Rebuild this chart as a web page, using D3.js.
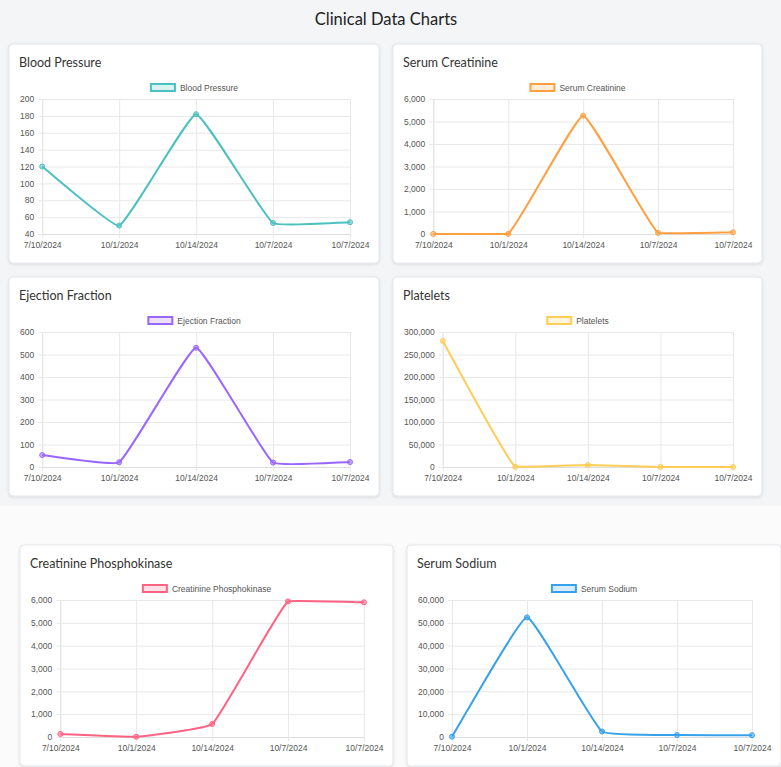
<!DOCTYPE html>
<html>
<head>
<meta charset="utf-8">
<script src="https://cdn.jsdelivr.net/npm/d3@7"></script>
<style>
    html, body { margin: 0; padding: 0; background: #f4f5f7; }
    svg { display: block; }
</style>
</head>
<body>
<svg id="page" width="781" height="767"></svg>
<script>
// Chart data
const dates = ["7/10/2024", "10/1/2024", "10/14/2024", "10/7/2024", "10/7/2024"];

const bloodPressure = [120, 50, 182, 53, 54];
const serumCreatinine = [5, 5, 5260, 50, 75];
const ejectionFraction = [53, 21, 530, 20, 22];
const platelets = [280000, 300, 4500, 250, 200];
const creatininePhosphokinase = [130, 10, 570, 5940, 5900];
const serumSodium = [140, 52400, 2400, 850, 800];

const bpTicks = [40, 60, 80, 100, 120, 140, 160, 180, 200];
const creatinineTicks = [0, 1000, 2000, 3000, 4000, 5000, 6000];
const ejectionTicks = [0, 100, 200, 300, 400, 500, 600];
const plateletTicks = [0, 50000, 100000, 150000, 200000, 250000, 300000];
const cpkTicks = [0, 1000, 2000, 3000, 4000, 5000, 6000];
const sodiumTicks = [0, 10000, 20000, 30000, 40000, 50000, 60000];

// Card layout
const charts = [
    {title: "Blood Pressure", values: bloodPressure, ticks: bpTicks, rgb: [75, 192, 192], x: 9, y: 44, w: 370, h: 219},
    {title: "Serum Creatinine", values: serumCreatinine, ticks: creatinineTicks, rgb: [255, 159, 64], x: 393, y: 44, w: 369, h: 219},
    {title: "Ejection Fraction", values: ejectionFraction, ticks: ejectionTicks, rgb: [153, 102, 255], x: 9, y: 277, w: 370, h: 219},
    {title: "Platelets", values: platelets, ticks: plateletTicks, rgb: [255, 205, 86], x: 393, y: 277, w: 369, h: 219},
    {title: "Creatinine Phosphokinase", values: creatininePhosphokinase, ticks: cpkTicks, rgb: [255, 99, 132], x: 20, y: 545, w: 373, h: 221},
    {title: "Serum Sodium", values: serumSodium, ticks: sodiumTicks, rgb: [54, 162, 235], x: 407, y: 545, w: 374, h: 221}
];

const tickFont = "'Liberation Sans', Arial, sans-serif";
const titleFont = "Lato, 'Open Sans', sans-serif";

const svg = d3.select("#page");

const defs = svg.append("defs");
const shadow = defs.append("filter").attr("id", "shadow")
    .attr("x", "-5%").attr("y", "-5%").attr("width", "110%").attr("height", "115%");
shadow.append("feDropShadow")
    .attr("dx", 0).attr("dy", 1)
    .attr("stdDeviation", 1.5)
    .attr("flood-color", "#000")
    .attr("flood-opacity", 0.12);

// lower part of the page is a lighter screenshot
svg.append("rect")
    .attr("x", 0).attr("y", 506)
    .attr("width", 781).attr("height", 261)
    .attr("fill", "#fbfbfb");

svg.append("text")
    .attr("x", 386)
    .attr("y", 25)
    .attr("text-anchor", "middle")
    .attr("font-family", titleFont)
    .attr("font-size", 16.5)
    .attr("fill", "#222")
    .text("Clinical Data Charts");

// Chart.js style spline (tension + capped control points)
function chartSpline(tension, area) {
    return function(context) {
        let pts;
        return {
            areaStart() {}, areaEnd() {},
            lineStart() { pts = []; },
            point(x, y) { pts.push({x: +x, y: +y}); },
            lineEnd() {
                const n = pts.length;
                if (!n) return;
                const cap = q => ({
                    x: Math.max(area.x0, Math.min(area.x1, q.x)),
                    y: Math.max(area.y0, Math.min(area.y1, q.y))
                });
                const cps = pts.map((p, i) => {
                    const prev = pts[i - 1] || p, next = pts[i + 1] || p;
                    const d01 = Math.hypot(p.x - prev.x, p.y - prev.y);
                    const d12 = Math.hypot(next.x - p.x, next.y - p.y);
                    let s01 = d01 / (d01 + d12), s12 = d12 / (d01 + d12);
                    if (!isFinite(s01)) s01 = 0;
                    if (!isFinite(s12)) s12 = 0;
                    const fa = tension * s01, fb = tension * s12;
                    return {
                        prev: cap({x: p.x - fa * (next.x - prev.x), y: p.y - fa * (next.y - prev.y)}),
                        next: cap({x: p.x + fb * (next.x - prev.x), y: p.y + fb * (next.y - prev.y)})
                    };
                });
                context.moveTo(pts[0].x, pts[0].y);
                for (let i = 1; i < n; i++) {
                    const a = cps[i - 1].next, b = cps[i].prev;
                    context.bezierCurveTo(a.x, a.y, b.x, b.y, pts[i].x, pts[i].y);
                }
            }
        };
    };
}

// measure text width for the y label column
const measure = svg.append("text").attr("font-family", tickFont).attr("font-size", 8.5);
function textWidth(s) {
    measure.text(s);
    return measure.node().getComputedTextLength();
}

const fmt = d3.format(",");

charts.forEach(c => {
    const color = `rgb(${c.rgb.join(",")})`;
    const light = `rgba(${c.rgb.join(",")},0.2)`;

    const g = svg.append("g");

    g.append("rect")
        .attr("x", c.x).attr("y", c.y)
        .attr("width", c.w).attr("height", c.h)
        .attr("rx", 4)
        .attr("fill", "#fff")
        .attr("stroke", "#e4e6ea")
        .attr("filter", "url(#shadow)");

    g.append("text")
        .attr("x", c.x + 10)
        .attr("y", c.y + 23)
        .attr("font-family", titleFont)
        .attr("font-size", 12.5)
        .attr("fill", "#333")
        .text(c.title);

    // legend
    const labelW = textWidth(c.title);
    const legendW = 26 + 4 + labelW;
    const lx = c.x + c.w / 2 - legendW / 2;
    g.append("rect")
        .attr("x", lx + 1).attr("y", c.y + 40)
        .attr("width", 24).attr("height", 7)
        .attr("fill", light)
        .attr("stroke", color)
        .attr("stroke-width", 2);
    g.append("text")
        .attr("x", lx + 30)
        .attr("y", c.y + 46.5)
        .attr("font-family", tickFont)
        .attr("font-size", 8.5)
        .attr("fill", "#555")
        .text(c.title);

    const maxLabel = d3.max(c.ticks, t => textWidth(fmt(t)));
    const left = c.x + 11 + maxLabel + 8;
    const right = c.x + c.w - 29;
    const top = c.y + 55;
    const bottom = c.y + c.h - 29;

    const x = d3.scalePoint()
        .domain(d3.range(dates.length))
        .range([left, right]);
    const y = d3.scaleLinear()
        .domain(d3.extent(c.ticks))
        .range([bottom, top]);

    // horizontal grid + y axis
    const yAxis = g.append("g")
        .attr("transform", `translate(${left},0)`)
        .call(d3.axisLeft(y).tickValues(c.ticks).tickFormat(fmt)
            .tickSize(-(right - left)).tickSizeOuter(0).tickPadding(8));
    yAxis.select(".domain").attr("stroke", "#ddd");
    yAxis.selectAll(".tick line").attr("stroke", "#e8e8e8").attr("x1", -4);
    yAxis.selectAll(".tick text")
        .attr("font-family", tickFont).attr("font-size", 8.5).attr("fill", "#555");

    // vertical grid + x axis
    const xAxis = g.append("g")
        .attr("transform", `translate(0,${bottom})`)
        .call(d3.axisBottom(x).tickFormat(i => dates[i])
            .tickSize(-(bottom - top)).tickSizeOuter(0).tickPadding(8));
    xAxis.select(".domain").attr("stroke", "#ddd");
    xAxis.selectAll(".tick line").attr("stroke", "#e8e8e8").attr("y1", 4);
    xAxis.selectAll(".tick text")
        .attr("font-family", tickFont).attr("font-size", 8.5).attr("fill", "#555");

    const area = {x0: left, x1: right, y0: top, y1: bottom};
    const line = d3.line()
        .x((d, i) => x(i))
        .y(d => y(d))
        .curve(chartSpline(0.1, area));

    g.append("path")
        .datum(c.values)
        .attr("fill", "none")
        .attr("stroke", color)
        .attr("stroke-width", 2)
        .attr("d", line);

    g.selectAll(".dot")
        .data(c.values)
        .enter()
        .append("circle")
        .attr("cx", (d, i) => x(i))
        .attr("cy", d => y(d))
        .attr("r", 2.5)
        .attr("fill", `rgba(${c.rgb.join(",")},0.5)`)
        .attr("stroke", color)
        .attr("stroke-width", 1);
});

measure.remove();
</script>
</body>
</html>
